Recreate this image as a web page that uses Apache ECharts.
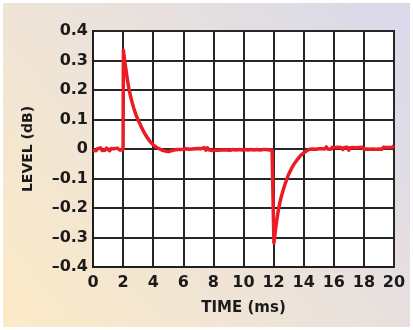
<!DOCTYPE html>
<html>
<head>
<meta charset="utf-8">
<script src="https://cdn.jsdelivr.net/npm/echarts@6/dist/echarts.min.js"></script>
<style>
  html, body { margin: 0; padding: 0; background: #fff; }
  #chart { width: 413px; height: 330px; }
</style>
</head>
<body>
<div id="chart"></div>
<script>
// level readings [time ms, level dB]
var baseBefore = [
  [0, -0.004], [0.1, 0.002], [0.2, -0.006], [0.3, 0.001], [0.4, -0.003], [0.5, 0.004],
  [0.6, -0.005], [0.7, 0.000], [0.8, -0.004], [0.9, 0.003], [1.0, -0.002], [1.1, -0.006],
  [1.2, 0.002], [1.3, -0.003], [1.4, 0.001], [1.5, -0.005], [1.6, 0.003], [1.7, -0.002],
  [1.8, -0.004], [1.9, 0.002], [2.0, -0.001]
];
var riseStep = [
  [2.02, 0.335], [2.1, 0.300], [2.2, 0.265], [2.3, 0.230], [2.4, 0.200], [2.5, 0.178],
  [2.6, 0.158], [2.7, 0.140], [2.8, 0.124], [2.9, 0.110], [3.0, 0.098], [3.2, 0.076],
  [3.4, 0.056], [3.6, 0.039], [3.8, 0.025], [4.0, 0.014], [4.2, 0.006], [4.4, 0.001],
  [4.6, -0.004], [4.8, -0.007], [5.0, -0.009], [5.2, -0.006]
];
var baseMiddle = [
  [5.4, -0.003], [5.5, -0.009], [5.6, -0.002], [5.7, -0.008], [5.8, -0.002], [5.9, -0.007],
  [6.0, -0.001], [6.1, -0.006], [6.2, 0.001], [6.3, -0.005], [6.4, -0.001], [6.5, -0.006],
  [6.6, 0.000], [6.7, -0.006], [6.8, 0.001], [6.9, -0.005], [7.0, 0.002], [7.1, -0.004],
  [7.2, 0.001], [7.3, -0.005], [7.4, 0.005], [7.5, -0.004], [7.6, 0.004], [7.7, -0.003],
  [7.8, 0.002], [7.9, -0.005], [8.0, 0.001], [8.1, -0.004], [8.2, 0.002], [8.3, -0.004],
  [8.4, 0.001], [8.5, -0.003], [8.6, 0.002], [8.7, -0.003], [8.8, 0.001], [8.9, -0.003],
  [9.0, 0.002], [9.1, -0.004], [9.2, 0.002], [9.3, -0.002], [9.4, 0.002], [9.5, -0.003],
  [9.6, 0.002], [9.7, -0.002], [9.8, 0.003], [9.9, -0.003], [10.0, 0.002], [10.1, -0.002],
  [10.2, 0.002], [10.3, -0.003], [10.4, 0.003], [10.5, -0.002], [10.6, 0.002], [10.7, -0.003],
  [10.8, 0.002], [10.9, -0.002], [11.0, 0.003], [11.1, -0.003], [11.2, 0.002], [11.3, -0.002],
  [11.4, 0.003], [11.5, -0.002], [11.6, 0.002], [11.7, -0.003], [11.8, 0.002], [11.9, -0.003],
  [12.0, 0.000]
];
var fallStep = [
  [12.02, -0.318], [12.1, -0.285], [12.2, -0.245], [12.3, -0.212], [12.4, -0.186],
  [12.5, -0.164], [12.6, -0.146], [12.7, -0.129], [12.8, -0.113], [12.9, -0.099],
  [13.0, -0.086], [13.2, -0.065], [13.4, -0.048], [13.6, -0.034], [13.8, -0.022],
  [14.0, -0.013], [14.2, -0.006], [14.4, -0.001]
];
var baseAfter = [
  [14.5, 0.005], [14.6, 0.000], [14.7, 0.006], [14.8, -0.001], [14.9, 0.005], [15.0, 0.001],
  [15.1, 0.007], [15.2, 0.001], [15.3, 0.006], [15.4, 0.000], [15.5, 0.007], [15.6, 0.000],
  [15.7, 0.005], [15.8, -0.001], [15.9, 0.006], [16.0, 0.000], [16.1, 0.005], [16.2, -0.001],
  [16.3, 0.006], [16.4, 0.001], [16.5, 0.005], [16.6, -0.002], [16.7, 0.005], [16.8, -0.001],
  [16.9, 0.006], [17.0, -0.004], [17.1, 0.004], [17.2, -0.001], [17.3, 0.005], [17.4, 0.000],
  [17.5, 0.004], [17.6, -0.001], [17.7, 0.005], [17.8, 0.000], [17.9, 0.006], [18.0, -0.001],
  [18.1, 0.004], [18.2, 0.000], [18.3, 0.006], [18.4, -0.001], [18.5, 0.005], [18.6, 0.000],
  [18.7, 0.006], [18.8, -0.001], [18.9, 0.005], [19.0, 0.000], [19.1, 0.005], [19.2, -0.001],
  [19.3, 0.006], [19.4, 0.000], [19.5, 0.005], [19.6, -0.001], [19.7, 0.005], [19.8, 0.002],
  [19.9, 0.006], [20.0, 0.011]
];
var xTicks = { min: 0, max: 20, step: 2 };
var yTicks = { min: -0.4, max: 0.4, step: 0.1 };

var trace = baseBefore.concat(riseStep, baseMiddle, fallStep, baseAfter);

var chart = echarts.init(document.getElementById('chart'));
var font = 'DejaVu Sans';
var ink = '#1c1a1a';

chart.setOption({
  animation: false,
  backgroundColor: {
    type: 'linear', x: 0, y: 1, x2: 1, y2: 0,
    colorStops: [
      { offset: 0, color: '#fdebc6' },
      { offset: 0.5, color: '#ebe2da' },
      { offset: 1, color: '#d9d8ec' }
    ]
  },
  graphic: [{   // thin white frame round the picture
    type: 'rect', silent: true, z: 100,
    shape: { x: 0, y: 0, width: 413, height: 330 },
    style: { fill: 'none', stroke: '#ffffff', lineWidth: 6 }
  }],
  grid: {
    left: 93, right: 19, top: 31, bottom: 63,
    show: true, backgroundColor: '#ffffff',
    borderColor: '#1e1e1e', borderWidth: 2
  },
  xAxis: {
    type: 'value',
    min: xTicks.min, max: xTicks.max, interval: xTicks.step,
    name: 'TIME (ms)', nameLocation: 'middle', nameGap: 34,
    nameTextStyle: { fontFamily: font, fontWeight: 'bold', fontSize: 15, color: ink },
    axisLine: { show: true, onZero: false, lineStyle: { color: '#1e1e1e', width: 2 } },
    axisTick: { show: false },
    splitLine: { show: true, lineStyle: { color: '#262626', width: 2 } },
    axisLabel: { fontFamily: font, fontWeight: 'bold', fontSize: 16, color: ink, margin: 8 }
  },
  yAxis: {
    type: 'value',
    min: yTicks.min, max: yTicks.max, interval: yTicks.step,
    name: 'LEVEL (dB)', nameLocation: 'middle', nameGap: 58,
    nameTextStyle: { fontFamily: font, fontWeight: 'bold', fontSize: 14, color: ink },
    axisLine: { show: true, onZero: false, lineStyle: { color: '#1e1e1e', width: 2 } },
    axisTick: { show: false },
    splitLine: { show: true, lineStyle: { color: '#262626', width: 2 } },
    axisLabel: {
      fontFamily: font, fontWeight: 'bold', fontSize: 16, color: ink, margin: 5,
      formatter: function (v) {
        var r = Math.round(v * 10) / 10;
        if (r === 0) return '0';
        return r < 0 ? '\u2013' + Math.abs(r).toFixed(1) : r.toFixed(1);
      }
    }
  },
  series: [{
    type: 'line',
    data: trace,
    showSymbol: false,
    lineStyle: { color: '#ed1c24', width: 3.5, join: 'round' },
    z: 5
  }]
});
</script>
</body>
</html>
